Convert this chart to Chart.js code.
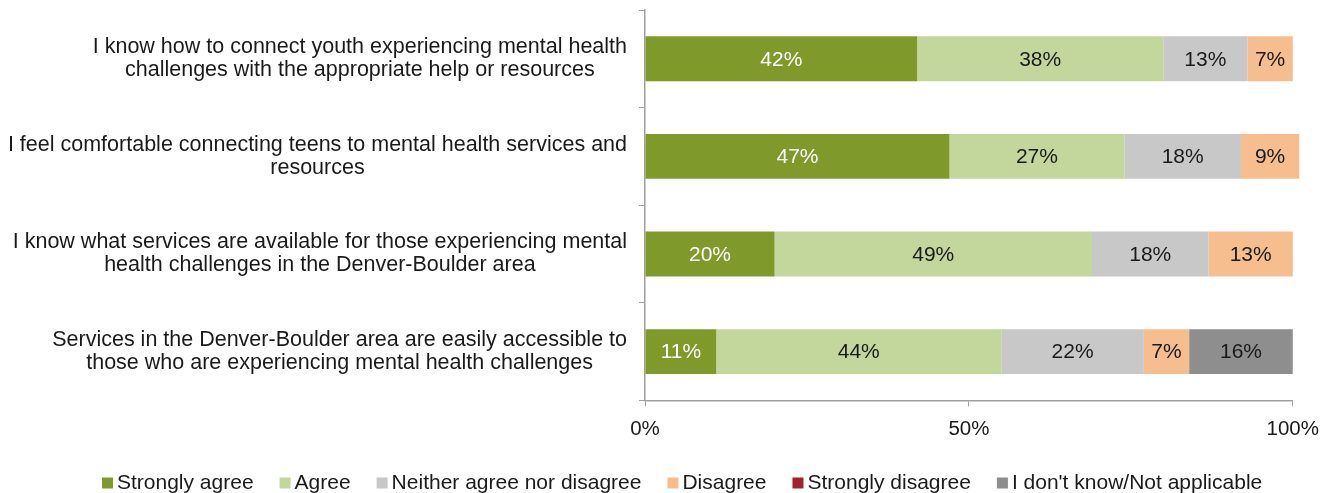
<!DOCTYPE html>
<html>
<head>
<meta charset="utf-8">
<script src="https://cdn.jsdelivr.net/npm/chart.js@4/dist/chart.umd.min.js"></script>
<style>
  html, body { margin: 0; padding: 0; background: #fff; }
  #wrap { width: 1330px; height: 493px; }
</style>
</head>
<body>
<div id="wrap"><canvas id="chart" width="1330" height="493"></canvas></div>
<script>
// statements (each one split over two lines)
const statements = [
  ["I know how to connect youth experiencing mental health", "challenges with the appropriate help or resources"],
  ["I feel comfortable connecting teens to mental health services and", "resources"],
  ["I know what services are available for those experiencing mental", "health challenges in the Denver-Boulder area"],
  ["Services in the Denver-Boulder area are easily accessible to", "those who are experiencing mental health challenges"]
];

// answer shares, in %
const stronglyAgree    = [42, 47, 20, 11];
const agree            = [38, 27, 49, 44];
const neither          = [13, 18, 18, 22];
const disagree         = [7, 9, 13, 7];
const stronglyDisagree = [0, 0, 0, 0];
const dontKnow         = [0, 0, 0, 16];

const xTicks = [0, 50, 100];

const FONT = "'Liberation Sans', Arial, sans-serif";
const TEXT = "#1a1a1a";

const series = [
  { label: "Strongly agree", data: stronglyAgree, color: "#80992b", text: "#ffffff" },
  { label: "Agree", data: agree, color: "#c3d69b", text: TEXT },
  { label: "Neither agree nor disagree", data: neither, color: "#c8c8c8", text: TEXT },
  { label: "Disagree", data: disagree, color: "#f6be8f", text: TEXT },
  { label: "Strongly disagree", data: stronglyDisagree, color: "#a0222f", text: TEXT },
  { label: "I don't know/Not applicable", data: dontKnow, color: "#8e8e8e", text: TEXT }
];

// percent labels inside each segment
const barLabels = {
  id: "barLabels",
  afterDatasetsDraw(chart) {
    const ctx = chart.ctx;
    ctx.save();
    ctx.font = "21px " + FONT;
    ctx.textAlign = "center";
    ctx.textBaseline = "middle";
    chart.data.datasets.forEach((ds, i) => {
      const meta = chart.getDatasetMeta(i);
      meta.data.forEach((bar, j) => {
        const v = ds.data[j];
        if (!v) return;
        ctx.fillStyle = series[i].text;
        ctx.fillText(v + "%", (bar.x + bar.base) / 2, bar.y + 1);
      });
    });
    ctx.restore();
  }
};

// statement text: block right-aligned to the axis, lines centred in the block
const rowLabels = {
  id: "rowLabels",
  afterDraw(chart) {
    const ctx = chart.ctx;
    const y = chart.scales.y;
    const right = 627;
    const lh = 23;
    ctx.save();
    ctx.font = "21.5px " + FONT;
    ctx.fillStyle = TEXT;
    ctx.textAlign = "center";
    ctx.textBaseline = "middle";
    statements.forEach((lines, i) => {
      const w = Math.max(...lines.map(l => ctx.measureText(l).width));
      const cx = right - w / 2;
      const cy = y.getPixelForValue(i);
      const top = cy - (lines.length - 1) * lh / 2;
      lines.forEach((l, k) => ctx.fillText(l, cx, top + k * lh));
    });
    ctx.restore();
  }
};

// legend row along the bottom
const bottomLegend = {
  id: "bottomLegend",
  afterDraw(chart) {
    const ctx = chart.ctx;
    const box = 11, gap = 4, space = 26, cy = 483;
    ctx.save();
    ctx.font = "21px " + FONT;
    ctx.textBaseline = "middle";
    ctx.textAlign = "left";
    let x = 102;
    series.forEach(s => {
      ctx.fillStyle = s.color;
      ctx.fillRect(x, cy - box / 2, box, box);
      x += box + gap;
      ctx.fillStyle = TEXT;
      ctx.fillText(s.label, x, cy);
      x += ctx.measureText(s.label).width + space;
    });
    ctx.restore();
  }
};

new Chart(document.getElementById("chart"), {
  type: "bar",
  data: {
    labels: statements,
    datasets: series.map(s => ({
      label: s.label,
      data: s.data,
      backgroundColor: s.color,
      borderWidth: 0,
      barPercentage: 0.46,
      categoryPercentage: 1,
      clip: false
    }))
  },
  options: {
    indexAxis: "y",
    responsive: false,
    animation: false,
    layout: { padding: { left: 639, right: 37, top: 10, bottom: 40 } },
    plugins: { legend: { display: false }, tooltip: { enabled: false } },
    scales: {
      x: {
        stacked: true,
        min: 0,
        max: 100,
        afterBuildTicks: s => { s.ticks = xTicks.map(v => ({ value: v })); },
        ticks: { color: TEXT, font: { family: FONT, size: 20.5 }, padding: 11, callback: v => v + "%" },
        grid: { drawOnChartArea: false, tickLength: 6, color: "#a0a0a0" },
        border: { color: "#a0a0a0", width: 1.5 }
      },
      y: {
        stacked: true,
        ticks: { display: false },
        grid: { drawOnChartArea: false, tickLength: 6, color: "#a0a0a0", offset: true },
        border: { color: "#a0a0a0", width: 1.5 }
      }
    }
  },
  plugins: [barLabels, rowLabels, bottomLegend]
});
</script>
</body>
</html>
